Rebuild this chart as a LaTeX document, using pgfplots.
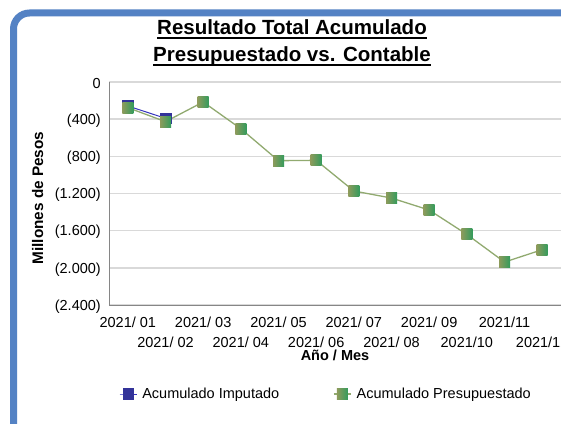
\documentclass[border=0pt]{standalone}
\usepackage{pgfplots}
\pgfplotsset{compat=1.18}
\usepackage{fontspec}
\setmainfont{Liberation Sans}
\definecolor{borderblue}{RGB}{84,130,196}
\definecolor{gridgray}{RGB}{217,217,217}
\definecolor{axisgray}{RGB}{134,134,134}
\definecolor{gl}{RGB}{140,155,92}
\definecolor{gr}{RGB}{52,155,92}
\definecolor{gline}{RGB}{145,170,112}
\definecolor{bline}{RGB}{51,51,190}
\definecolor{bmark}{RGB}{51,51,153}
\pgfdeclarehorizontalshading{gsqsh}{100bp}{color(0bp)=(gl); color(25bp)=(gl); color(75bp)=(gr); color(100bp)=(gr)}
\pgfdeclareplotmark{gsq}{%
  \pgfpathrectangle{\pgfqpoint{-\pgfplotmarksize}{-\pgfplotmarksize}}{\pgfqpoint{2\pgfplotmarksize}{2\pgfplotmarksize}}%
  \pgfshadepath{gsqsh}{0}%
  \pgfusepath{discard}}
\begin{document}
\begin{tikzpicture}[x=1pt,y=1pt]
\useasboundingbox (0,0) rectangle (561,423);
\clip (0,0) rectangle (561,423);
\fill[white] (0,0) rectangle (561,423);
\draw[line width=7pt, borderblue, rounded corners=16pt] (13.5,-20) -- (13.5,410) -- (620,410);
\node[anchor=base, font=\fontsize{20.5}{24}\selectfont\bfseries, inner sep=0pt] (t1) at (292,388) {Resultado Total Acumulado};
\node[anchor=base, font=\fontsize{20.5}{24}\selectfont\bfseries, inner sep=0pt] (t2) at (292,361.3) {Presupuestado vs. Contable};
\draw[line width=1.6pt] ([yshift=-3.3pt]t1.base west) -- ([yshift=-3.3pt]t1.base east);
\draw[line width=1.6pt] ([yshift=-3.3pt]t2.base west) -- ([yshift=-3.3pt]t2.base east);
\begin{axis}[
  at={(109pt,118pt)}, anchor=south west,
  scale only axis, width=452pt, height=223pt,
  xmin=0.5, xmax=12.5, ymin=-2400, ymax=0,
  axis x line*=bottom, axis y line*=left,
  axis line style={axisgray, line width=1pt},
  ymajorgrids, grid style={gridgray, line width=1.4pt},
  major tick length=0pt,
  tick style={draw=none},
  /pgf/number format/assume math mode=true,
  font=\fontsize{14.5}{17}\selectfont,
  ytick={0,-400,-800,-1200,-1600,-2000,-2400},
  yticklabels={0,(400),(800),(1.200),(1.600),(2.000),(2.400)},
  yticklabel style={inner sep=0pt, xshift=-8pt, yshift=-1.5pt},
  xtick={1,3,5,7,9,11},
  xticklabels={2021/ 01,2021/ 03,2021/ 05,2021/ 07,2021/ 09,2021/11},
  extra x ticks={2,4,6,8,10,12},
  extra x tick labels={2021/ 02,2021/ 04,2021/ 06,2021/ 08,2021/10,2021/12},
  xticklabel style={inner sep=0pt, anchor=north, yshift=-12pt},
  extra x tick style={grid=none, xticklabel style={yshift=-19.7pt}},
  xlabel={Año / Mes},
  xlabel style={at={(axis description cs:0.5,0)}, anchor=north, inner sep=0pt, yshift=-45pt, font=\fontsize{14.5}{17}\selectfont\bfseries},
  ylabel={Millones de Pesos},
  ylabel style={at={(axis description cs:-0.158,0.48)}, anchor=center, font=\fontsize{15.3}{18}\selectfont\bfseries},
  legend columns=2,
  legend style={at={(axis description cs:0,0)}, anchor=west, xshift=10pt, yshift=-89pt, draw=none, fill=none, inner sep=0pt,
    nodes={inner sep=0pt, font=\fontsize{14.5}{17}\selectfont},
    /tikz/every odd column/.append style={column sep=5pt},
    /tikz/every even column/.append style={column sep=54pt}},
  clip=false,
]
\addplot[bline, line width=1pt, mark=square*, mark size=5.3pt, mark options={fill=bmark, draw=bmark, line width=0.6pt}]
  coordinates {(1,-258) (2,-391)};
\addlegendentry{Acumulado Imputado}
\addplot[gline, line width=1.3pt, mark=gsq, mark size=5.5pt]
  coordinates {(1,-276) (2,-427) (3,-215) (4,-503) (5,-847) (6,-843) (7,-1173) (8,-1249) (9,-1378) (10,-1640) (11,-1938) (12,-1805)};
\addlegendentry{Acumulado Presupuestado}
\end{axis}
\end{tikzpicture}
\end{document}
